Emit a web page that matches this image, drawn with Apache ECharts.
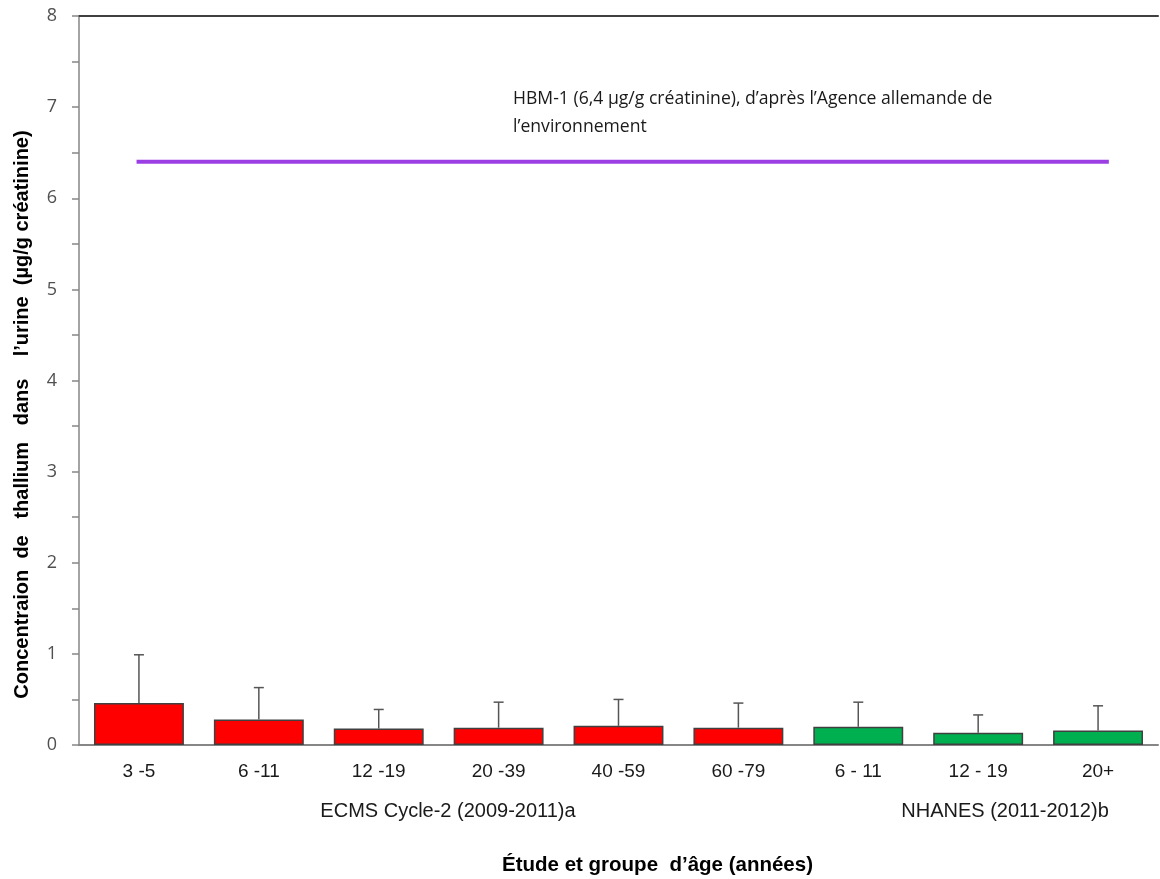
<!DOCTYPE html>
<html>
<head>
<meta charset="utf-8">
<style>
  html, body { margin: 0; padding: 0; background: #ffffff; }
  #chart { width: 1160px; height: 879px; }
</style>
<script src="https://cdn.jsdelivr.net/npm/echarts@6/dist/echarts.min.js"></script>
</head>
<body>
<div id="chart"></div>
<script>
// Age groups, ECMS cycle 2 (6 groups) then NHANES (3 groups)
const categories = ['3 -5', '6 -11', '12 -19', '20 -39', '40 -59', '60 -79', '6 - 11', '12 - 19', '20+'];
// Urinary thallium, µg/g creatinine
const meanValues = [0.46, 0.28, 0.18, 0.19, 0.21, 0.19, 0.20, 0.135, 0.16];
const upperValues = [0.99, 0.63, 0.39, 0.47, 0.50, 0.46, 0.47, 0.33, 0.43];
const studyOfBar = ['ECMS', 'ECMS', 'ECMS', 'ECMS', 'ECMS', 'ECMS', 'NHANES', 'NHANES', 'NHANES'];
const studyColors = { ECMS: '#ff0000', NHANES: '#00b050' };
// HBM-1 guidance value, drawn as a horizontal reference line
const hbmValue = 6.4;
const hbmSpan = [0.48, 8.59];
const yTicks = { min: 0, max: 8, interval: 1 };

const chart = echarts.init(document.getElementById('chart'), null, { renderer: 'canvas' });

const barData = meanValues.map((v, i) => ({
  value: v,
  itemStyle: { color: studyColors[studyOfBar[i]] }
}));

const errData = categories.map((c, i) => [i, meanValues[i], upperValues[i]]);

const option = {
  animation: false,
  backgroundColor: '#ffffff',
  grid: { left: 79, right: 2, top: 16, bottom: 134, containLabel: false },
  title: [
    {
      text: 'HBM-1 (6,4 µg/g créatinine), d’après l’Agence allemande de\nl’environnement',
      left: 508, top: 80,
      textStyle: { fontFamily: 'Open Sans', fontSize: 17.6, fontWeight: 'normal', color: '#1a1a1a', lineHeight: 28 }
    },
    {
      text: 'ECMS Cycle-2 (2009-2011)a',
      left: 443, top: 796, textAlign: 'center',
      textStyle: { fontFamily: 'Liberation Sans', fontSize: 20, fontWeight: 'normal', color: '#1a1a1a' }
    },
    {
      text: 'NHANES (2011-2012)b',
      left: 1000, top: 796, textAlign: 'center',
      textStyle: { fontFamily: 'Liberation Sans', fontSize: 20, fontWeight: 'normal', color: '#1a1a1a' }
    },
    {
      text: 'Étude et groupe  d’âge (années)',
      left: 497, top: 850,
      textStyle: { fontFamily: 'Liberation Sans', fontSize: 20.5, fontWeight: 'bold', color: '#000000' }
    }
  ],
  xAxis: [
    {
      type: 'category',
      data: categories,
      axisLine: { lineStyle: { color: '#868686', width: 2 } },
      axisTick: { show: false },
      axisLabel: { fontFamily: 'Liberation Sans', fontSize: 19, color: '#1a1a1a', margin: 17, interval: 0 },
      splitLine: { show: false }
    },
    {
      type: 'category',
      data: categories,
      position: 'top',
      axisLine: { lineStyle: { color: '#404040', width: 2 } },
      axisTick: { show: false },
      axisLabel: { show: false },
      splitLine: { show: false }
    },
    {
      type: 'value',
      min: 0, max: categories.length,
      show: false
    }
  ],
  yAxis: {
    type: 'value',
    min: yTicks.min, max: yTicks.max, interval: yTicks.interval,
    name: 'Concentraion  de   thallium   dans    l’urine  (µg/g créatinine)',
    nameLocation: 'middle',
    nameGap: 47,
    nameTextStyle: {
      fontFamily: 'Liberation Sans', fontSize: 20, fontWeight: 'bold', color: '#000000',
      padding: [0, 68, 0, 0]
    },
    axisLine: { show: true, lineStyle: { color: '#868686', width: 1.5 } },
    axisTick: { show: true, length: 7, lineStyle: { color: '#868686', width: 1.5 } },
    minorTick: { show: true, splitNumber: 2, length: 7, lineStyle: { color: '#868686', width: 1.5 } },
    axisLabel: { fontFamily: 'Open Sans', fontSize: 18, color: '#505050', margin: 22 },
    splitLine: { show: false }
  },
  series: [
    {
      type: 'bar',
      data: barData,
      barCategoryGap: '25%',
      itemStyle: { borderColor: '#404040', borderWidth: 1.5 },
      z: 2
    },
    {
      type: 'custom',
      data: errData,
      z: 3,
      renderItem: function (params, api) {
        const x = api.coord([api.value(0), 0])[0];
        const yLow = api.coord([api.value(0), api.value(1)])[1];
        const yHigh = api.coord([api.value(0), api.value(2)])[1];
        const cap = 5;
        const style = { stroke: '#555555', lineWidth: 1.5 };
        return {
          type: 'group',
          children: [
            { type: 'line', shape: { x1: x, y1: yLow, x2: x, y2: yHigh }, style: style },
            { type: 'line', shape: { x1: x - cap, y1: yHigh, x2: x + cap, y2: yHigh }, style: style }
          ]
        };
      }
    },
    {
      type: 'line',
      xAxisIndex: 2,
      data: hbmSpan.map(x => [x, hbmValue]),
      symbol: 'none',
      lineStyle: { color: '#9b3fe4', width: 4 },
      z: 4
    }
  ]
};

chart.setOption(option);
</script>
</body>
</html>
